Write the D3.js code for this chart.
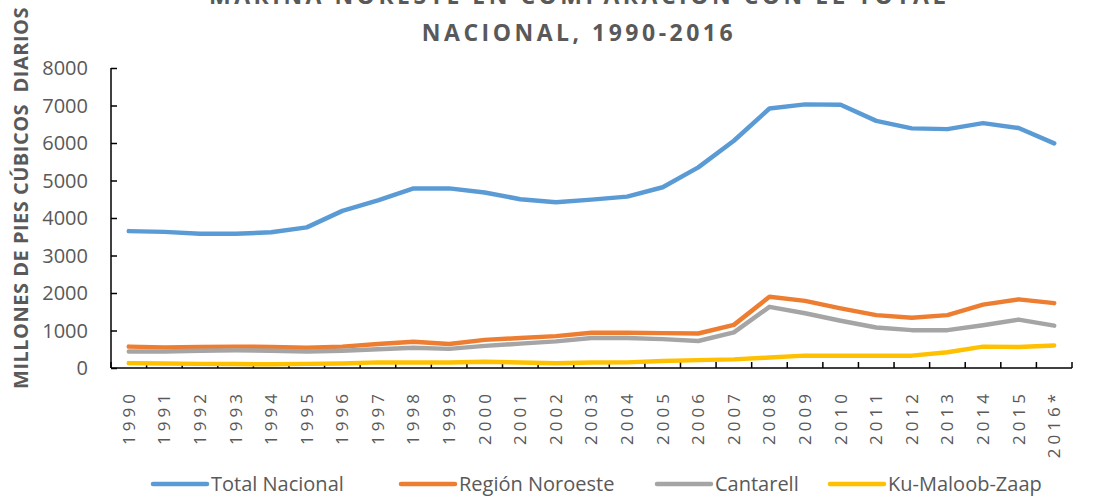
<!DOCTYPE html>
<html>
<head>
<meta charset="utf-8">
<script src="https://cdn.jsdelivr.net/npm/d3@7"></script>
<style>
  body { margin: 0; background: #fff; }
  svg text { font-family: "Open Sans", Lato, sans-serif; fill: #595959; }
</style>
</head>
<body>
<svg id="chart" width="1102" height="497"></svg>
<script>
// ---------- DATA ----------
const years = ["1990","1991","1992","1993","1994","1995","1996","1997","1998","1999",
  "2000","2001","2002","2003","2004","2005","2006","2007","2008","2009",
  "2010","2011","2012","2013","2014","2015","2016*"];

const totalNacional = [3650,3630,3580,3580,3620,3750,4190,4470,4790,4790,
  4680,4500,4420,4490,4570,4820,5350,6060,6920,7030,
  7020,6590,6390,6370,6530,6400,5990];
const regionNoroeste = [570,550,560,570,560,540,570,640,700,640,
  750,800,850,940,940,930,920,1150,1900,1790,
  1590,1410,1340,1410,1690,1830,1730];
const cantarell = [440,440,460,470,460,440,460,500,540,510,
  590,650,710,800,800,770,720,950,1630,1460,
  1260,1080,1010,1010,1140,1290,1130];
const kuMaloobZaap = [130,120,110,105,100,110,120,150,150,145,
  165,145,125,145,150,185,210,230,280,330,
  330,330,330,420,570,560,600];

const seriesNames = ["Total Nacional", "Región Noroeste", "Cantarell", "Ku-Maloob-Zaap"];
const seriesColors = ["#5B9BD5", "#ED7D31", "#A5A5A5", "#FFC000"];
const yTicks = [0,1000,2000,3000,4000,5000,6000,7000,8000];

const series = [totalNacional, regionNoroeste, cantarell, kuMaloobZaap];

// ---------- LAYOUT ----------
const svg = d3.select("#chart");
const plot = { left: 111, right: 1072, top: 68, bottom: 368 };

const x = d3.scaleBand()
  .domain(years)
  .range([plot.left, plot.right]);

const y = d3.scaleLinear()
  .domain([0, 8000])
  .range([plot.bottom, plot.top]);

// ---------- TITLE ----------
const title = svg.append("text")
  .attr("x", 579)
  .attr("text-anchor", "middle")
  .style("font-size", "23px")
  .style("font-weight", "bold")
  .style("letter-spacing", "3.5px");
title.append("tspan").attr("x", 579).attr("y", 4).text("MARINA NORESTE EN COMPARACIÓN CON EL TOTAL");
title.append("tspan").attr("x", 579).attr("y", 41).text("NACIONAL, 1990-2016");

// ---------- Y AXIS TITLE ----------
svg.append("text")
  .attr("transform", "translate(28,198) rotate(-90)")
  .attr("text-anchor", "middle")
  .style("font-size", "20px")
  .style("font-weight", "bold")
  .style("letter-spacing", "0.5px")
  .style("white-space", "pre")
  .text("MILLONES DE PIES CÚBICOS  DIARIOS");

// ---------- AXES ----------
const yAxis = svg.append("g")
  .attr("transform", `translate(${plot.left},0)`)
  .call(d3.axisRight(y).tickValues(yTicks).tickSize(6).tickFormat(""));
yAxis.select(".domain").attr("stroke", "#000").attr("stroke-width", 1.5).attr("d", `M0,${plot.top}V${plot.bottom}`);
yAxis.selectAll(".tick line").attr("stroke", "#000").attr("stroke-width", 1.5);

svg.append("g")
  .selectAll("text")
  .data(yTicks)
  .join("text")
  .attr("x", 88)
  .attr("y", d => y(d))
  .attr("dy", "0.35em")
  .attr("text-anchor", "end")
  .style("font-size", "20px")
  .text(d => d);

const xAxis = svg.append("g")
  .attr("transform", `translate(0,${plot.bottom})`);
xAxis.append("line")
  .attr("x1", plot.left).attr("x2", plot.right)
  .attr("stroke", "#000").attr("stroke-width", 1.5);
xAxis.selectAll(".tk")
  .data(years.concat(["end"]))
  .join("line")
  .attr("class", "tk")
  .attr("x1", (d, i) => i < years.length ? x(d) : plot.right)
  .attr("x2", (d, i) => i < years.length ? x(d) : plot.right)
  .attr("y1", 0).attr("y2", -6)
  .attr("stroke", "#000").attr("stroke-width", 1.5);

xAxis.selectAll(".lbl")
  .data(years)
  .join("text")
  .attr("class", "lbl")
  .attr("transform", d => `translate(${x(d) + x.bandwidth() / 2},22) rotate(-90)`)
  .attr("dy", "0.35em")
  .attr("text-anchor", "end")
  .style("font-size", "17px")
  .style("letter-spacing", "4px")
  .text(d => d);

// ---------- LINES ----------
const line = d3.line()
  .x((d, i) => x(years[i]) + x.bandwidth() / 2)
  .y(d => y(d));

svg.append("g")
  .selectAll("path")
  .data(series)
  .join("path")
  .attr("d", line)
  .attr("fill", "none")
  .attr("stroke", (d, i) => seriesColors[i])
  .attr("stroke-width", 4.5)
  .attr("stroke-linejoin", "round")
  .attr("stroke-linecap", "round");

// ---------- LEGEND ----------
const legendX = [153, 401, 657, 830];
const legend = svg.append("g")
  .selectAll("g")
  .data(seriesNames)
  .join("g")
  .attr("transform", (d, i) => `translate(${legendX[i]},484)`);

legend.append("line")
  .attr("x1", 0).attr("x2", 54)
  .attr("stroke", (d, i) => seriesColors[i])
  .attr("stroke-width", 4.5)
  .attr("stroke-linecap", "round");

legend.append("text")
  .attr("x", 58)
  .attr("dy", "0.35em")
  .style("font-size", "20px")
  .text(d => d);
</script>
</body>
</html>
